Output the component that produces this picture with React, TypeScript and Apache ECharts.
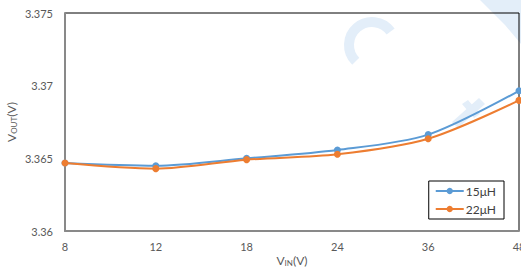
import React, { useEffect, useRef } from "react";
import * as echarts from "echarts";

const categories = ["8", "12", "18", "24", "36", "48"];
const series15uH = [3.36468, 3.36449, 3.365, 3.36557, 3.36663, 3.36965];
const series22uH = [3.36468, 3.36429, 3.36491, 3.36528, 3.36635, 3.36899];
const yTicks = ["3.36", "3.365", "3.37", "3.375"];
const seriesNames = ["15μH", "22μH"];

const FONT = "Lato, 'Liberation Sans', sans-serif";
const WM = "#e3eef9";

export default function App() {
  const ref = useRef<HTMLDivElement>(null);
  useEffect(() => {
    if (!ref.current) return;
    const chart = echarts.init(ref.current, undefined, { renderer: "svg" });
    const nameRich = {
      m: { fontSize: 12, lineHeight: 14, color: "#595959", fontFamily: FONT },
      s: { fontSize: 8, lineHeight: 8, color: "#595959", fontFamily: FONT, verticalAlign: "bottom" },
    };
    chart.setOption({
      animation: false,
      backgroundColor: "#fff",
      textStyle: { fontFamily: FONT },
      graphic: [
        {
          type: "arc",
          z: -10,
          shape: { cx: 372, cy: 45, r: 23, startAngle: Math.PI * 0.75, endAngle: Math.PI * 1.8, clockwise: true },
          style: { stroke: WM, lineWidth: 10, fill: "none" },
          silent: true,
        },
        {
          type: "polygon",
          z: -10,
          shape: { points: [[480, 0], [521, 0], [521, 44], [505, 25]] },
          style: { fill: WM },
          silent: true,
        },
        {
          type: "polygon",
          z: -10,
          shape: { points: [[452, 122], [458, 128], [485, 104], [479, 98]] },
          style: { fill: WM },
          silent: true,
        },
        {
          type: "polygon",
          z: -10,
          shape: { points: [[462, 104], [468, 100], [480, 114], [474, 118]] },
          style: { fill: WM },
          silent: true,
        },
      ],
      grid: {
        left: 65,
        right: 2,
        top: 13,
        bottom: 39,
        outerBoundsMode: "none",
        containLabel: false,
        show: true,
        borderColor: "#000",
        borderWidth: 1,
        backgroundColor: "transparent",
      },
      legend: {
        orient: "vertical",
        right: 17,
        top: 181,
        data: seriesNames,
        borderColor: "#000",
        borderWidth: 1,
        padding: [4, 8, 4, 6],
        itemGap: 6,
        itemWidth: 28,
        itemHeight: 8,
        backgroundColor: "#fff",
        textStyle: { color: "#404040", fontSize: 12, fontFamily: FONT, padding: [0, 0, 0, -3] },
      },
      xAxis: {
        type: "category",
        data: categories,
        boundaryGap: false,
        axisLine: { lineStyle: { color: "#898989", width: 2 } },
        axisTick: { show: false },
        axisLabel: { color: "#595959", fontSize: 11, margin: 10, fontFamily: FONT },
        splitLine: { show: false },
        name: "{m|V}{s|IN}{m|(V)}",
        nameLocation: "middle",
        nameGap: 22,
        nameMoveOverlap: false,
        nameTextStyle: { rich: nameRich },
      },
      yAxis: {
        type: "value",
        min: 3.36,
        max: 3.375,
        interval: 0.005,
        axisLine: { show: true, lineStyle: { color: "#898989", width: 2 } },
        axisTick: { show: false },
        splitLine: { show: false },
        axisLabel: {
          color: "#595959",
          fontSize: 11,
          margin: 12,
          fontFamily: FONT,
          formatter: (v: number) => {
            const idx = Math.round((v - 3.36) / 0.005);
            return yTicks[idx] ?? String(v);
          },
        },
        name: "{m|V}{s|OUT}{m|(V)}",
        nameLocation: "middle",
        nameGap: 47,
        nameMoveOverlap: false,
        nameRotate: 90,
        nameTextStyle: { rich: nameRich },
      },
      series: [
        {
          name: seriesNames[0],
          type: "line",
          data: series15uH,
          smooth: 0.3,
          symbol: "circle",
          symbolSize: 7,
          lineStyle: { width: 2, color: "#5b9bd5" },
          itemStyle: { color: "#5b9bd5" },
          z: 3,
        },
        {
          name: seriesNames[1],
          type: "line",
          data: series22uH,
          smooth: 0.3,
          symbol: "circle",
          symbolSize: 7,
          lineStyle: { width: 2, color: "#ed7d31" },
          itemStyle: { color: "#ed7d31" },
          z: 4,
        },
      ],
    });
    return () => chart.dispose();
  }, []);
  return <div ref={ref} style={{ width: 521, height: 270, position: "absolute", left: 0, top: 0 }} />;
}
